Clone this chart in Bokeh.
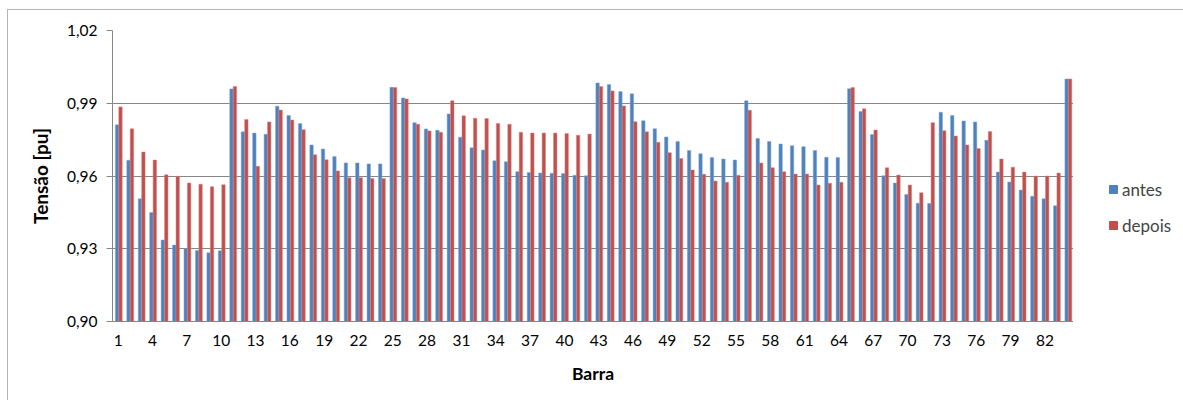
from bokeh.plotting import figure
from bokeh.layouts import row
from bokeh.models import (ColumnDataSource, Range1d, FixedTicker, Legend, LegendItem)
from bokeh.transform import dodge
from bokeh.embed import file_html
from bokeh.resources import INLINE

barras = list(range(1, 85))
antes = [0.9811, 0.9665, 0.9506, 0.9450, 0.9336, 0.9315, 0.9300, 0.9293, 0.9283, 0.9292,
         0.9959, 0.9782, 0.9777, 0.9772, 0.9888, 0.9850, 0.9816, 0.9728, 0.9711, 0.9680,
         0.9654, 0.9654, 0.9650, 0.9650, 0.9966, 0.9922, 0.9820, 0.9794, 0.9789, 0.9856,
         0.9760, 0.9716, 0.9707, 0.9663, 0.9659, 0.9618, 0.9614, 0.9612, 0.9611, 0.9610,
         0.9603, 0.9601, 0.9984, 0.9977, 0.9948, 0.9939, 0.9828, 0.9795, 0.9761, 0.9742,
         0.9705, 0.9692, 0.9676, 0.9670, 0.9666, 0.9910, 0.9755, 0.9742, 0.9732, 0.9725,
         0.9721, 0.9705, 0.9677, 0.9676, 0.9960, 0.9866, 0.9771, 0.9601, 0.9571, 0.9524,
         0.9488, 0.9487, 0.9863, 0.9849, 0.9827, 0.9823, 0.9747, 0.9616, 0.9575, 0.9542,
         0.9516, 0.9506, 0.9477, 1.0000]
depois = [0.9885, 0.9795, 0.9699, 0.9666, 0.9605, 0.9599, 0.9571, 0.9566, 0.9556, 0.9564,
          0.9969, 0.9833, 0.9640, 0.9823, 0.9872, 0.9831, 0.9791, 0.9688, 0.9667, 0.9621,
          0.9593, 0.9593, 0.9590, 0.9590, 0.9965, 0.9918, 0.9813, 0.9786, 0.9780, 0.9910,
          0.9848, 0.9838, 0.9837, 0.9817, 0.9813, 0.9780, 0.9777, 0.9777, 0.9777, 0.9775,
          0.9768, 0.9773, 0.9969, 0.9951, 0.9889, 0.9824, 0.9782, 0.9739, 0.9696, 0.9672,
          0.9625, 0.9607, 0.9579, 0.9574, 0.9603, 0.9871, 0.9654, 0.9634, 0.9618, 0.9608,
          0.9608, 0.9563, 0.9570, 0.9574, 0.9965, 0.9877, 0.9790, 0.9634, 0.9604, 0.9563,
          0.9531, 0.9820, 0.9787, 0.9765, 0.9728, 0.9713, 0.9783, 0.9670, 0.9636, 0.9616,
          0.9600, 0.9600, 0.9612, 1.0000]
series_names = ["antes", "depois"]
series_colors = ["#4F81BD", "#C0504D"]
y_ticks = [0.90, 0.93, 0.96, 0.99, 1.02]
y_tick_labels = ["0,90", "0,93", "0,96", "0,99", "1,02"]
x_ticks = list(range(1, 85, 3))

FONT = "Lato"
BORDER = "#b4b4b4"
src = ColumnDataSource(dict(x=barras, antes=antes, depois=depois))

p = figure(width=1066, height=391, output_backend="svg", toolbar_location=None,
           x_range=Range1d(0.5, 84.5), y_range=Range1d(0.90, 1.02),
           min_border_left=105, min_border_right=0, min_border_top=21, min_border_bottom=79)
p.border_fill_color = None
p.background_fill_color = None
p.styles = {"box-shadow": f"inset 1px 1px 0 {BORDER}"}

r1 = p.vbar(x=dodge("x", -0.1, range=p.x_range), top="antes", bottom=0.90, width=0.3,
            source=src, fill_color=series_colors[0], line_color="#7FA6D6", line_width=0.5)
r2 = p.vbar(x=dodge("x", 0.2, range=p.x_range), top="depois", bottom=0.90, width=0.3,
            source=src, fill_color=series_colors[1], line_color="#D98481", line_width=0.5)

p.outline_line_color = None
p.xgrid.grid_line_color = None
p.ygrid.grid_line_color = "#868686"
p.ygrid.grid_line_width = 1
p.ygrid.level = "underlay"

p.yaxis.ticker = FixedTicker(ticks=y_ticks)
p.yaxis.major_label_overrides = {t: l for t, l in zip(y_ticks, y_tick_labels)}
p.xaxis.ticker = FixedTicker(ticks=x_ticks)

for ax in (p.xaxis[0], p.yaxis[0]):
    ax.axis_line_color = "#868686"
    ax.major_tick_line_color = "#868686"
    ax.minor_tick_line_color = None
    ax.major_label_text_font = FONT
    ax.major_label_text_font_size = "15.5px"
    ax.major_label_text_color = "#000000"
    ax.axis_label_text_font = FONT
    ax.axis_label_text_font_style = "bold"
    ax.axis_label_text_color = "#000000"

p.xaxis.major_tick_out = 0
p.xaxis.major_tick_in = 0
p.xaxis.major_label_standoff = 13
p.xaxis.axis_label = "Barra"
p.xaxis.axis_label_text_font_size = "17.5px"
p.xaxis.axis_label_standoff = 14
p.yaxis.major_tick_out = 6
p.yaxis.major_tick_in = 0
p.yaxis.major_label_standoff = 9
p.yaxis.axis_label = "Tensão [pu]"
p.yaxis.axis_label_text_font_size = "19px"
p.yaxis.axis_label_standoff = 12

# legend panel to the right of the plot area (its own ranges keep the bars out of view)
p2 = figure(width=110, height=391, output_backend="svg", toolbar_location=None,
            x_axis_type=None, y_axis_type=None, min_border=0,
            x_range=Range1d(-10, -9), y_range=Range1d(0, 0.5))
p2.border_fill_color = None
p2.background_fill_color = None
p2.outline_line_color = None
p2.styles = {"box-shadow": f"inset 0 1px 0 {BORDER}"}
lr1 = p2.vbar(x="x", top="antes", bottom=0.90, width=0.3, source=src,
              fill_color=series_colors[0], line_color=series_colors[0])
lr2 = p2.vbar(x="x", top="depois", bottom=0.90, width=0.3, source=src,
              fill_color=series_colors[1], line_color=series_colors[1])

legend = Legend(items=[LegendItem(label=series_names[0], renderers=[lr1]),
                       LegendItem(label=series_names[1], renderers=[lr2])],
                location=(35, 85.5), orientation="vertical",
                glyph_width=10, glyph_height=10, label_height=20, spacing=15,
                label_standoff=4, padding=0, margin=0,
                border_line_color=None, background_fill_alpha=0,
                label_text_font=FONT, label_text_font_size="17px")
p2.add_layout(legend, "center")

layout = row(p, p2, margin=(9, 0, 0, 7))
open("out.html", "w").write(file_html(layout, INLINE))
